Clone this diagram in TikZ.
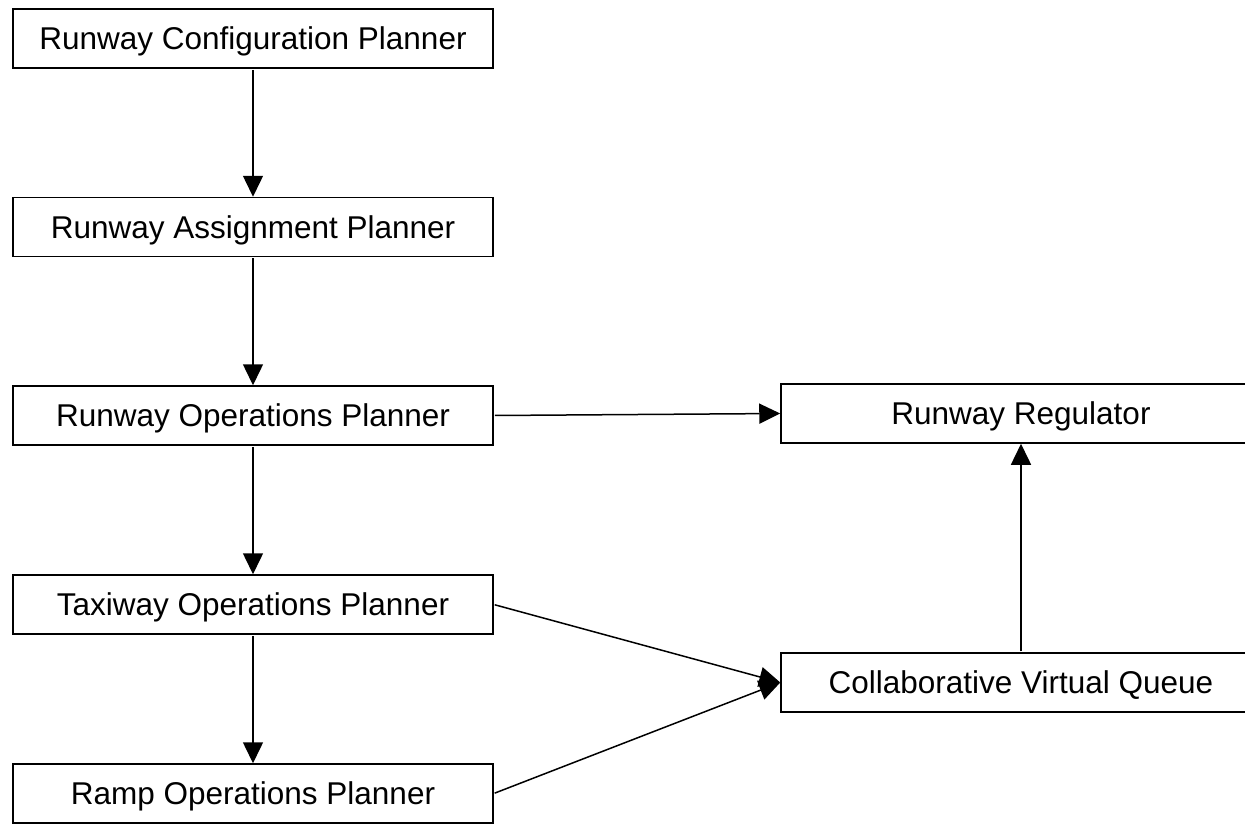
\documentclass[tikz,border=0pt]{standalone}
\usepackage{fontspec}
\setmainfont{Liberation Sans}
\usetikzlibrary{arrows.meta}
\tikzset{
  planbox/.style={draw=black, line width=1.5pt, fill=white, inner sep=0pt,
    minimum width=480pt, minimum height=59pt,
    text height=28pt, text depth=6pt,
    font=\fontsize{31.5}{37}\selectfont},
  flow/.style={draw=black, line width=1.5pt,
    -{Triangle[width=20pt,length=21pt]}, shorten <=1pt}
}
\begin{document}
\begin{tikzpicture}[x=1pt,y=-1pt]
  \clip (0,0) rectangle (1245,825);
  \fill[white] (0,0) rectangle (1245,825);

  % planner chain on the left
  \node[planbox] (rcp) at (253,38.5)  {Runway Configuration Planner};
  \node[planbox] (rap) at (253,227)   {Runway Assignment Planner};
  \node[planbox] (rop) at (253,415.5) {Runway Operations Planner};
  \node[planbox] (top) at (253,604.5) {Taxiway Operations Planner};
  \node[planbox] (rmp) at (253,793.5) {Ramp Operations Planner};

  % regulator and queue on the right
  \node[planbox] (rr)  at (1021,413.5) {Runway Regulator};
  \node[planbox] (cvq) at (1021,682.5) {Collaborative Virtual Queue};

  % connectors
  \draw[flow] (rcp) -- (rap);
  \draw[flow] (rap) -- (rop);
  \draw[flow] (rop) -- (top);
  \draw[flow] (top) -- (rmp);
  \draw[flow] (rop.east) -- (rr.west);
  \draw[flow] (top.east) -- (cvq.west);
  \draw[flow] (rmp.east) -- (cvq.west);
  \draw[flow] (cvq) -- (rr);
\end{tikzpicture}
\end{document}
